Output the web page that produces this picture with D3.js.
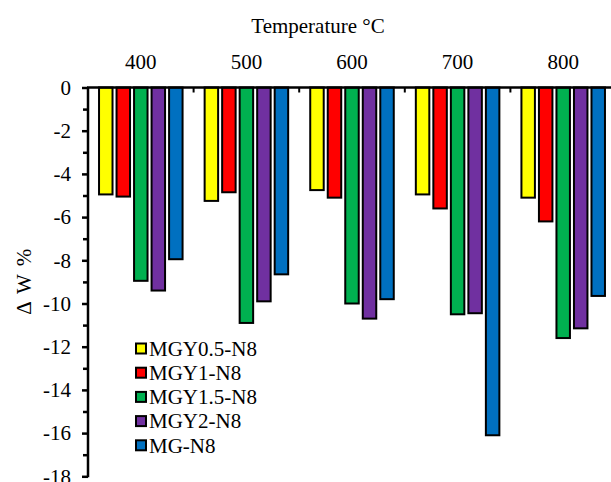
<!DOCTYPE html>
<html>
<head>
<meta charset="utf-8">
<script src="https://cdn.jsdelivr.net/npm/d3@7"></script>
<style>
  body { margin: 0; background: #fff; }
  svg text { font-family: "Liberation Serif", "Times New Roman", serif; font-size: 21px; fill: #000; }
</style>
</head>
<body>
<div id="viz-container"></div>
<script>
// categories along the top
let temps = ["400", "500", "600", "700", "800"];
let seriesNames = ["MGY0.5-N8", "MGY1-N8", "MGY1.5-N8", "MGY2-N8", "MG-N8"];
let seriesColors = ["#ffff00", "#ff0000", "#00b050", "#7030a0", "#0070c0"];

// mass change (%) for each series, one value per temperature
let mgy05 = [-4.95, -5.25, -4.75, -4.95, -5.1];
let mgy1 = [-5.05, -4.85, -5.1, -5.6, -6.2];
let mgy15 = [-8.95, -10.9, -10.0, -10.5, -11.6];
let mgy2 = [-9.4, -9.9, -10.7, -10.45, -11.15];
let mgN8 = [-7.95, -8.65, -9.8, -16.1, -9.65];

let allValues = [mgy05, mgy1, mgy15, mgy2, mgN8];
let yMajor = [0, -2, -4, -6, -8, -10, -12, -14, -16, -18];
let yMinor = d3.range(-17, 0, 2);

let viz = d3.select("#viz-container")
  .append("svg")
    .attr("width", 611)
    .attr("height", 482);

let x0 = d3.scaleBand().domain(temps).range([88, 616]);
let x1 = d3.scaleBand().domain(seriesNames)
  .range([0, x0.bandwidth()])
  .paddingInner(0.23)
  .paddingOuter(0.63);
let y = d3.scaleLinear().domain([-18, 0]).range([476.3, 87.5]);

// bars
let groups = viz.selectAll("g.series").data(seriesNames).enter().append("g")
  .attr("class", "series")
  .attr("fill", (d, i) => seriesColors[i]);

groups.selectAll("rect")
  .data((d, i) => allValues[i].map((v, j) => ({ s: d, t: temps[j], v: v })))
  .enter().append("rect")
    .attr("x", d => x0(d.t) + x1(d.s))
    .attr("y", y(0))
    .attr("width", x1.bandwidth())
    .attr("height", d => y(d.v) - y(0))
    .attr("stroke", "#000")
    .attr("stroke-width", 2);

// y axis (left)
let yMinorAxis = viz.append("g")
  .attr("transform", "translate(88,0)")
  .call(d3.axisLeft(y).tickValues(yMinor).tickSize(5).tickFormat(""));
yMinorAxis.select(".domain").remove();

let yAxis = viz.append("g")
  .attr("transform", "translate(88,0)")
  .call(d3.axisLeft(y).tickValues(yMajor).tickSize(6).tickPadding(11).tickFormat(d => String(d)));
yAxis.selectAll("text").attr("font-size", 21).attr("font-family", null);
yAxis.selectAll("line, path").attr("stroke-width", 2.5);
yMinorAxis.selectAll("line").attr("stroke-width", 2.5);
yAxis.select(".domain").attr("d", "M0," + (y(-18) + 1) + "V" + y(0));

// top category axis: labels at centres, ticks at boundaries
let xAxis = viz.append("g")
  .attr("transform", "translate(0," + y(0) + ")")
  .call(d3.axisTop(x0).tickSize(0).tickPadding(19));
xAxis.select(".domain").remove();
xAxis.selectAll("text").attr("font-size", 21).attr("font-family", null);

viz.append("line")
  .attr("x1", 87).attr("x2", 611)
  .attr("y1", y(0)).attr("y2", y(0))
  .attr("stroke", "#000").attr("stroke-width", 2.5);

viz.selectAll("line.xtick").data(temps.slice(1)).enter().append("line")
  .attr("class", "xtick")
  .attr("x1", d => x0(d)).attr("x2", d => x0(d))
  .attr("y1", y(0)).attr("y2", y(0) + 5)
  .attr("stroke", "#000").attr("stroke-width", 2);

// titles
viz.append("text")
  .attr("x", 318).attr("y", 33)
  .attr("text-anchor", "middle")
  .text("Temperature °C");

viz.append("text")
  .attr("transform", "translate(31,281) rotate(-90)")
  .attr("text-anchor", "middle")
  .attr("letter-spacing", 1.5)
  .text("Δ W %");

// legend
let legend = viz.selectAll("g.legend").data(seriesNames).enter().append("g")
  .attr("class", "legend")
  .attr("transform", (d, i) => "translate(136," + (348.5 + i * 24.2) + ")");

legend.append("rect")
  .attr("x", 0).attr("y", -5)
  .attr("width", 10).attr("height", 10)
  .attr("fill", (d, i) => seriesColors[i])
  .attr("stroke", "#000").attr("stroke-width", 2);

legend.append("text")
  .attr("x", 13).attr("y", 0)
  .attr("dy", "0.35em")
  .text(d => d);
</script>
</body>
</html>
